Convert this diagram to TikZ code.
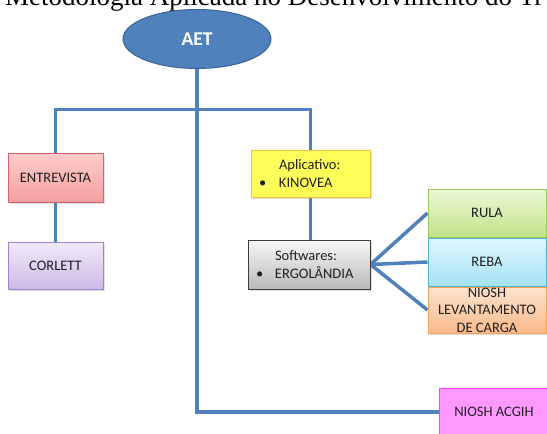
\documentclass[tikz,border=0pt]{standalone}
\usepackage{fontspec}
\setmainfont{Liberation Serif}
\newfontfamily\boxfont{Carlito}
\usetikzlibrary{shadows,calc,shapes.geometric,backgrounds}
\definecolor{lineblue}{HTML}{4F81BD}
\definecolor{aetfill}{HTML}{4F81BD}
\definecolor{aetdraw}{HTML}{3A6496}
\definecolor{txt}{HTML}{202020}
\tikzset{
  conn/.style={draw=lineblue, line width=3.5pt},
  box/.style={rectangle, draw, line width=1pt, inner sep=0pt, font=\boxfont\fontsize{14.5}{18}\selectfont, text=txt,
    drop shadow={opacity=0.25, shadow xshift=1.5pt, shadow yshift=-1.5pt}},
  listbox/.style={box, align=left, inner xsep=8pt},
}
\begin{document}
\begin{tikzpicture}[x=1pt,y=-1pt]
\useasboundingbox (0,0) rectangle (547,434);
\clip (0,0) rectangle (547,434);
\node[anchor=base west, font=\fontsize{27}{30}\selectfont, inner sep=0pt] (title) at (5,5) {Metodologia Aplicada no Desenvolvimento do Tr};

% nodes
\node[ellipse, draw=aetdraw, line width=1pt, fill=aetfill, minimum width=148pt, minimum height=59pt, inner sep=0pt,
  text=white, font=\boxfont\bfseries\fontsize{19.5}{22}\selectfont] (aet) at (197,39) {AET};

\node[box, draw=red!55!white!85!black, top color={rgb,255:red,255;green,204;blue,204}, bottom color={rgb,255:red,244;green,160;blue,160},
  minimum width=95pt, minimum height=49pt] (ent) at (55.5,177.5) {ENTREVISTA};
\node[box, draw={rgb,255:red,160;green,130;blue,205}, top color={rgb,255:red,240;green,233;blue,248}, bottom color={rgb,255:red,206;green,186;blue,232},
  minimum width=95pt, minimum height=47pt] (cor) at (55.5,265.5) {CORLETT};

\node[listbox, draw={rgb,255:red,247;green,190;blue,60}, fill={rgb,255:red,255;green,255;blue,90},
  minimum width=119pt, minimum height=47pt, text width=103pt] (app) at (310.5,173.5)
  {\hspace*{20pt}Aplicativo:\\\makebox[20pt][l]{•}KINOVEA};
\node[listbox, draw={rgb,255:red,60;green,60;blue,60}, top color={rgb,255:red,248;green,248;blue,248}, bottom color={rgb,255:red,185;green,185;blue,185},
  minimum width=122pt, minimum height=49pt, text width=106pt, inner xsep=8pt] (sw) at (309,264.5)
  {\hspace*{19pt}Softwares:\\\makebox[19pt][l]{•}ERGOLÂNDIA};

\node[box, draw={rgb,255:red,155;green,200;blue,90}, top color={rgb,255:red,236;green,248;blue,214}, bottom color={rgb,255:red,192;green,226;blue,136},
  minimum width=118pt, minimum height=48pt] (rula) at (487,213) {RULA};
\node[box, draw={rgb,255:red,80;green,180;blue,210}, top color={rgb,255:red,224;green,246;blue,253}, bottom color={rgb,255:red,165;green,226;blue,247},
  minimum width=118pt, minimum height=48pt] (reba) at (487,262) {REBA};
\node[box, draw={rgb,255:red,247;green,160;blue,90}, top color={rgb,255:red,253;green,228;blue,206}, bottom color={rgb,255:red,250;green,185;blue,140},
  minimum width=118pt, minimum height=46pt,
  label={[align=center, font=\boxfont\fontsize{14.5}{17.5}\selectfont, text=txt, inner sep=0pt]center:NIOSH\\LEVANTAMENTO\\DE CARGA}] (niosh) at (487,310) {};
\node[box, draw={rgb,255:red,255;green,60;blue,255}, fill={rgb,255:red,255;green,153;blue,255},
  minimum width=110pt, minimum height=48pt] (acgih) at (494,412) {NIOSH ACGIH};

% connectors (behind boxes)
\begin{scope}[on background layer]
\draw[conn] (aet.south) -- (aet.south |- 0,110);
\draw[conn] (ent.north) -- ++(0,-43) -| (app.north);
\draw[conn] (aet.south |- 0,110) |- (acgih.west);
\draw[conn] (ent.south) -- (cor.north);
\draw[conn] (app.south) -- (app.south |- sw.north);
\draw[conn] (sw.east) -- (rula.west);
\draw[conn] (sw.east) -- (reba.west);
\draw[conn] (sw.east) -- (niosh.west);
\end{scope}
\end{tikzpicture}
\end{document}
